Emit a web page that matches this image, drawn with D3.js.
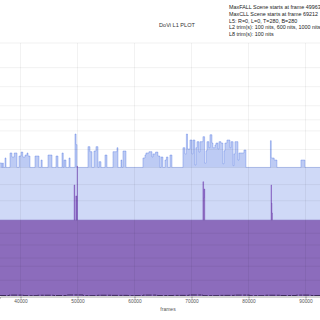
<!DOCTYPE html>
<html>
<head>
<meta charset="utf-8">
<script src="https://cdn.jsdelivr.net/npm/d3@7"></script>
<style>
body{margin:0;background:#fff}
svg{display:block;font-family:"Liberation Sans",Arial,sans-serif}
</style>
</head>
<body>
<div id="chart"></div>
<script>

// -----------------------------
// DATA (L1 values as 12-bit PQ codes, step after each frame)
// -----------------------------

const maxFrames = [36404,36700,36850,36990,37281,37456,38158,38500,38900,39386,39737,40100,40400,40800,41140,41320,41666,
42543,43245,43596,43800,44823,45525,46226,46577,47279,47500,47630,47980,48507,48700,49559,49750,49910,
51839,52190,52541,52892,53242,53593,53769,54119,54821,55172,56224,56926,57100,57627,57803,57978,58504,
61486,61837,62012,62538,63065,63240,63700,64100,64468,64643,64994,65345,65600,65871,66222,66573,
68502,68853,69100,69300,69730,70081,70256,70600,70782,70958,71308,71484,72010,72300,72536,72712,73063,73238,73589,73764,
74115,74290,74641,74817,75168,75500,75694,75869,76220,76746,76922,77300,77448,77623,78149,78325,79202,79553,
83763,83850,83990,84500,84991,89201,89903,92600]
const maxCodes = [2153,2081,2153,2081,2234,2081,2315,2250,2315,2081,2266,2330,2250,2282,2315,2266,2081,
2266,2081,2201,2081,2282,2081,2266,2081,2315,2081,2201,2081,2234,2081,2622,2450,2081,
2417,2336,2081,2347,2417,2081,2174,2081,2282,2081,2336,2400,2081,2201,2081,2347,2081,
2234,2282,2315,2336,2250,2300,2330,2266,2081,2250,2081,2201,2250,2081,2282,2081,
2400,2300,2622,2379,2525,2300,2525,2120,2400,2498,2330,2498,2579,2150,2350,2498,2400,2610,2476,2400,
2444,2476,2380,2498,2476,2140,2350,2476,2525,2400,2498,2110,2300,2498,2200,2315,2363,2081,
2081,2514,2234,2201,2081,2201,2081,2081]

const avgFrames = [36404,49400,49520,49700,49900,49940,49990,72000,72120,72200,72330,83950,84030,84120,84200,92600]
const avgCodes = [1228,1797,1228,1619,1228,2104,1228,1850,1586,1732,1228,1797,1505,1343,1228,1228]

const minFrames = [36404,38000,40500,43000,45800,48200,51000,53500,56000,58800,61500,64000,66800,69500,72000,74800,77500,80200,83000,85600,88400,91000,92600]
const minCodes = [8,14,6,12,8,16,6,12,10,6,14,8,10,16,6,10,14,6,12,8,14,8,8]

const xTicks = [40000,50000,60000,70000,80000,90000]
const nitTicks = [0.1,0.5,1,2.5,5,10,25,50,100,200,400,600,1000,2000,4000,10000]

const infoLines = [
"MaxFALL Scene starts at frame 49963",
"MaxCLL Scene starts at frame 69212",
"L5: R=0, L=0, T=280, B=280",
"L2 trim(s): 100 nits, 600 nits, 1000 nits",
"L8 trim(s): 100 nits"
]

// nits -> 12-bit PQ code
function pqCode(nits){
const m1=0.1593017578125,m2=78.84375,c1=0.8359375,c2=18.8515625,c3=18.6875
const yp=Math.pow(nits/10000,m1)
return Math.pow((c1+c2*yp)/(1+c3*yp),m2)*4095
}

// -----------------------------
// CHART
// -----------------------------

const width = 320
const height = 320
const margin = {top:43,right:0,bottom:24,left:0}

const svg = d3.select("#chart")
.append("svg")
.attr("width",width)
.attr("height",height)

const x = d3.scaleLinear()
.domain([36404,92544])
.range([0,width])

const y = d3.scaleLinear()
.domain([0,4095])
.range([height-margin.bottom,margin.top])

const maxData = maxFrames.map((f,i)=>({f:f,v:maxCodes[i]}))
const avgData = avgFrames.map((f,i)=>({f:f,v:avgCodes[i]}))
const minData = minFrames.map((f,i)=>({f:f,v:minCodes[i]}))

svg.append("defs").append("clipPath").attr("id","clip")
.append("rect")
.attr("x",0).attr("y",margin.top)
.attr("width",width).attr("height",height-margin.top-margin.bottom)

const plot = svg.append("g").attr("clip-path","url(#clip)")

// MAX

plot.append("path")
.datum(maxData)
.attr("fill","rgba(65,105,225,0.25)")
.attr("d",d3.area().curve(d3.curveStepAfter).x(d=>x(d.f)).y0(y(0)).y1(d=>y(d.v)))

// spikes above 100 nits a bit denser
plot.append("path")
.datum(maxData)
.attr("fill","rgba(65,105,225,0.12)")
.attr("d",d3.area().curve(d3.curveStepAfter).x(d=>x(d.f)).y0(y(2081)).y1(d=>y(Math.max(d.v,2081))))

plot.append("path")
.datum(maxData)
.attr("fill","none")
.attr("stroke","rgba(65,105,225,0.6)")
.attr("stroke-width",0.55)
.attr("d",d3.line().curve(d3.curveStepAfter).x(d=>x(d.f)).y(d=>y(d.v)))

// AVERAGE

plot.append("path")
.datum(avgData)
.attr("fill","#8c6cbc")
.attr("d",d3.area().curve(d3.curveStepAfter).x(d=>x(d.f)).y0(y(0)).y1(d=>y(d.v)))

plot.append("path")
.datum(avgData)
.attr("fill","none")
.attr("stroke","rgba(110,60,180,0.6)")
.attr("stroke-width",0.6)
.attr("d",d3.line().curve(d3.curveStepAfter).x(d=>x(d.f)).y(d=>y(d.v)))

// MINIMUM

plot.append("path")
.datum(minData)
.attr("fill","none")
.attr("stroke","#2a1c44")
.attr("stroke-width",0.8)
.attr("stroke-dasharray","6,1.5,3,1")
.attr("d",d3.line().curve(d3.curveStepAfter).x(d=>x(d.f)).y(d=>y(d.v)))

// GRID

const grid = svg.append("g")
.attr("stroke","#000")
.attr("stroke-opacity",0.07)
.attr("stroke-width",0.8)

grid.selectAll(".gx")
.data(xTicks)
.enter()
.append("line")
.attr("x1",d=>x(d)).attr("x2",d=>x(d))
.attr("y1",margin.top).attr("y2",height-margin.bottom)

grid.selectAll(".gy")
.data(nitTicks)
.enter()
.append("line")
.attr("x1",0).attr("x2",width)
.attr("y1",d=>y(pqCode(d))).attr("y2",d=>y(pqCode(d)))

// AXIS

const xAxis = svg.append("g")
.attr("transform",`translate(0,${height-margin.bottom+0.5})`)
.call(d3.axisBottom(x).tickValues(xTicks).tickFormat(d3.format("d")).tickSize(2).tickPadding(1.5))

xAxis.select(".domain").attr("stroke","#aaa")
xAxis.selectAll(".tick line").attr("stroke","#888")
xAxis.selectAll("text").attr("font-size",4.8).attr("fill","#555").attr("font-family","Liberation Sans, Arial, sans-serif")

svg.append("text")
.attr("x",168)
.attr("y",311)
.attr("text-anchor","middle")
.attr("font-size",5)
.attr("fill","#555")
.text("frames")

// TITLE + INFO

svg.append("text")
.attr("x",177)
.attr("y",27)
.attr("text-anchor","middle")
.attr("font-size",5.6)
.attr("fill","#333")
.text("DoVi L1 PLOT")

svg.selectAll(".info")
.data(infoLines)
.enter()
.append("text")
.attr("x",229)
.attr("y",(d,i)=>9+i*6.8)
.attr("font-size",5.4)
.attr("fill","#222")
.text(d=>d)

</script>
</body>
</html>
